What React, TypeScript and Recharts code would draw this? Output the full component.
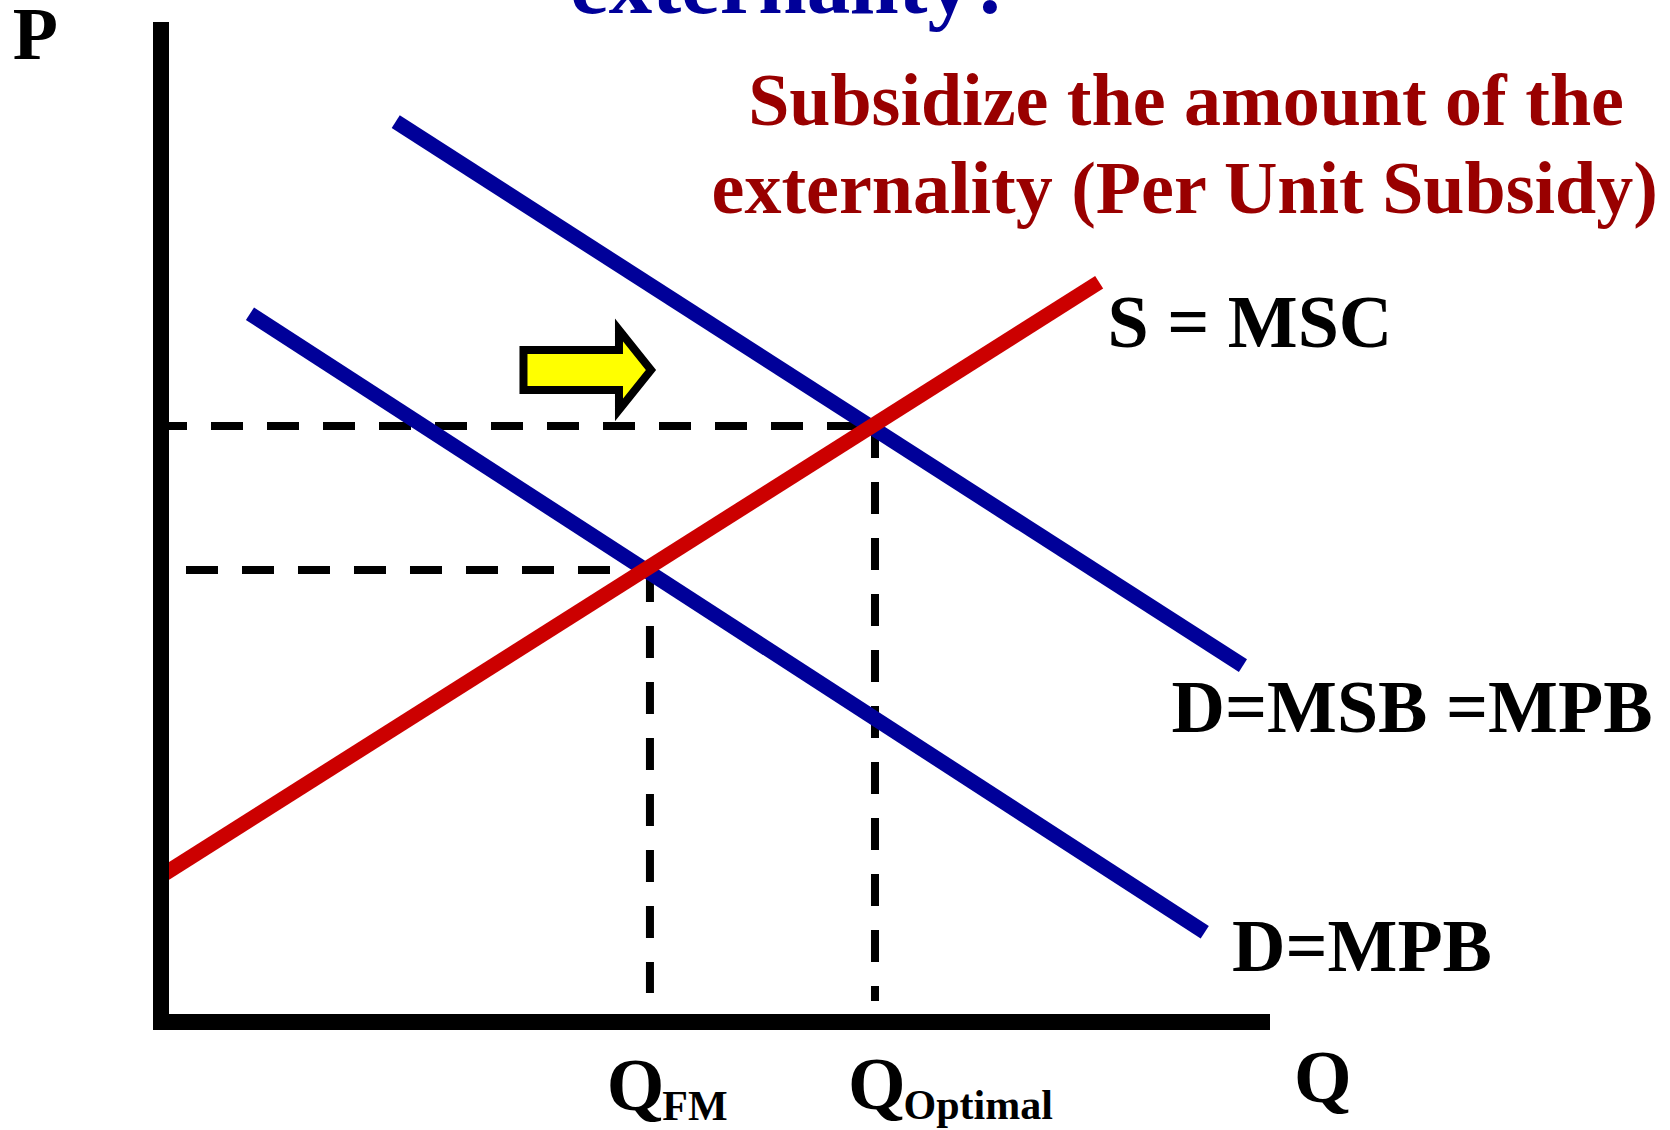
import React from 'react';
import { ComposedChart, Line, XAxis, YAxis, ReferenceDot, ReferenceLine } from 'recharts';

// Curves (Q, P) endpoints
const msbCurve = [
  { q: 21.32, p: 90.76 },
  { q: 98.27, p: 35.92 },
];
const mpbCurve = [
  { q: 8.08, p: 71.4 },
  { q: 94.8, p: 9.05 },
];
const mscCurve = [
  { q: 0.38, p: 14.99 },
  { q: 85.21, p: 74.57 },
];

// Equilibria
const qOptimal = 64.85;
const pOptimal = 60.08;
const qFM = 44.41;
const pFM = 45.56;

// Guide lines
const optHorizontal = [
  { q: 0, p: pOptimal },
  { q: qOptimal, p: pOptimal },
];
const optVertical = [
  { q: qOptimal, p: pOptimal },
  { q: qOptimal, p: 2.12 },
];
const fmHorizontal = [
  { q: 2.27, p: pFM },
  { q: qFM, p: pFM },
];
const fmVertical = [
  { q: qFM, p: pFM },
  { q: qFM, p: 2.92 },
];

// Text labels
const titleTop = 'externality?';
const titleLine1 = 'Subsidize the amount of the';
const titleLine2 = 'externality (Per Unit Subsidy)';
const labelMSC = 'S = MSC';
const labelMSB = 'D=MSB =MPB';
const labelMPB = 'D=MPB';
const axisP = 'P';
const axisQ = 'Q';
const qLabels = [
  { main: 'Q', sub: 'FM', q: 40.48, p: -8.87 },
  { main: 'Q', sub: 'Optimal', q: 62.4, p: -8.77 },
];

const FONT = '"Liberation Serif", "Times New Roman", serif';

const textShape =
  (text: string, opts: { size: number; fill: string; anchor?: string }) =>
  (props: any) => (
    <text
      x={props.cx}
      y={props.cy}
      fontFamily={FONT}
      fontWeight="bold"
      fontSize={opts.size}
      fill={opts.fill}
      textAnchor={opts.anchor || 'start'}
    >
      {text}
    </text>
  );

const subShape = (main: string, sub: string) => (props: any) => (
  <text x={props.cx} y={props.cy} fontFamily={FONT} fontWeight="bold" fontSize={74} fill="#000">
    <tspan>{main}</tspan>
    <tspan fontSize={42} dx={-2} dy={10}>
      {sub}
    </tspan>
  </text>
);

const arrowShape = (props: any) => {
  const cx = props.cx;
  const cy = props.cy;
  const pts = [
    [cx - 63.5, cy - 20],
    [cx + 32, cy - 20],
    [cx + 32, cy - 40],
    [cx + 64, cy],
    [cx + 32, cy + 40],
    [cx + 32, cy + 20],
    [cx - 63.5, cy + 20],
  ]
    .map((p) => p.join(','))
    .join(' ');
  return <polygon points={pts} fill="#FFFF00" stroke="#000" strokeWidth={8} strokeLinejoin="miter" />;
};

export default function App() {
  return (
    <div style={{ position: 'absolute', left: 0, top: 0, width: 1670, height: 1130, background: '#fff' }}>
      <ComposedChart width={1670} height={1130} margin={{ top: 30, right: 408, bottom: 108, left: 161 }}>
        <XAxis type="number" dataKey="q" domain={[0, 100]} height={0} tick={false} tickLine={false} axisLine={false} />
        <YAxis type="number" dataKey="p" domain={[0, 100]} width={0} tick={false} tickLine={false} axisLine={false} />
        <Line data={optHorizontal} dataKey="p" type="linear" stroke="#000" strokeWidth={8} strokeDasharray="32 24" strokeDashoffset={6} dot={false} isAnimationActive={false} />
        <Line data={optVertical} dataKey="p" type="linear" stroke="#000" strokeWidth={8} strokeDasharray="32 24" dot={false} isAnimationActive={false} />
        <Line data={fmHorizontal} dataKey="p" type="linear" stroke="#000" strokeWidth={8} strokeDasharray="32 24" dot={false} isAnimationActive={false} />
        <Line data={fmVertical} dataKey="p" type="linear" stroke="#000" strokeWidth={8} strokeDasharray="32 24" dot={false} isAnimationActive={false} />
        <Line data={msbCurve} dataKey="p" type="linear" stroke="#000099" strokeWidth={15} dot={false} isAnimationActive={false} />
        <Line data={mpbCurve} dataKey="p" type="linear" stroke="#000099" strokeWidth={15} dot={false} isAnimationActive={false} />
        <Line data={mscCurve} dataKey="p" type="linear" stroke="#CC0000" strokeWidth={15} dot={false} isAnimationActive={false} />

        <ReferenceLine x={0} stroke="#000" strokeWidth={16} strokeLinecap="square" ifOverflow="visible" />
        <ReferenceLine y={0} stroke="#000" strokeWidth={16} strokeLinecap="square" ifOverflow="visible" />

        <ReferenceDot x={38.69} y={65.73} r={0} ifOverflow="visible" shape={arrowShape} />

        <ReferenceDot x={37.15} y={101.71} r={0} ifOverflow="visible" shape={textShape(titleTop, { size: 87, fill: '#000099' })} />
        <ReferenceDot x={93.1} y={90.47} r={0} ifOverflow="visible" shape={textShape(titleLine1, { size: 74, fill: '#990000', anchor: 'middle' })} />
        <ReferenceDot x={92.98} y={81.55} r={0} ifOverflow="visible" shape={textShape(titleLine2, { size: 74, fill: '#990000', anchor: 'middle' })} />
        <ReferenceDot x={85.97} y={68.04} r={0} ifOverflow="visible" shape={textShape(labelMSC, { size: 74, fill: '#000' })} />
        <ReferenceDot x={91.78} y={29.27} r={0} ifOverflow="visible" shape={textShape(labelMSB, { size: 74, fill: '#000' })} />
        <ReferenceDot x={97.27} y={5.14} r={0} ifOverflow="visible" shape={textShape(labelMPB, { size: 74, fill: '#000' })} />
        <ReferenceDot x={-13.46} y={97.08} r={0} ifOverflow="visible" shape={textShape(axisP, { size: 74, fill: '#000' })} />
        <ReferenceDot x={102.91} y={-8.06} r={0} ifOverflow="visible" shape={textShape(axisQ, { size: 74, fill: '#000' })} />
        {qLabels.map((l) => (
          <ReferenceDot key={l.sub} x={l.q} y={l.p} r={0} ifOverflow="visible" shape={subShape(l.main, l.sub)} />
        ))}
      </ComposedChart>
    </div>
  );
}
